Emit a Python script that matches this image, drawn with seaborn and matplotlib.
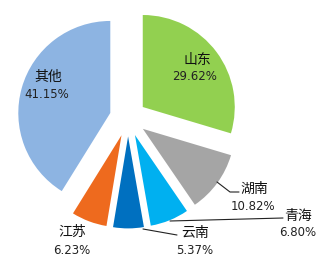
import matplotlib
matplotlib.use("Agg")
import matplotlib.pyplot as plt
import seaborn as sns

names = ["山东", "湖南", "青海", "云南", "江苏", "其他"]
shares = [29.62, 10.82, 6.80, 5.37, 6.23, 41.15]
pct_labels = ["29.62%", "10.82%", "6.80%", "5.37%", "6.23%", "41.15%"]
colors = ["#92D050", "#A5A5A5", "#00B0F0", "#0070C0", "#EE6A1E", "#8DB4E2"]

sns.set_theme(style="white")
plt.rcParams['font.family'] = ['DejaVu Sans', 'Noto Sans CJK SC']

W, H = 326, 266
CX, CY, R = 128, 118, 92.0

def P(px, py):
    return ((px - CX) / R, (CY - py) / R)

fig = plt.figure(figsize=(W / 100, H / 100), dpi=100)
ax = fig.add_axes([0, 0, 1, 1])
ax.pie(shares, colors=colors, startangle=90, counterclock=False,
       explode=[0.2] * len(shares), radius=1.0,
       wedgeprops=dict(linewidth=0))
ax.set_xlim(-CX / R, (W - CX) / R)
ax.set_ylim(-(H - CY) / R, CY / R)
ax.set_aspect('auto')
ax.axis('off')

# label layout (pixel centers of name line and percent line)
name_pos = [(197, 60), (254, 189), (298, 216), (195, 233), (72, 232), (48, 77)]
pct_pos = [(195, 77), (253, 206), (298, 233), (195, 250), (72, 250), (47, 95)]
for n, p, npos, ppos in zip(names, pct_labels, name_pos, pct_pos):
    ax.text(*P(*npos), n, ha='center', va='center', fontsize=10,
            family=['Noto Sans CJK SC'], color='#111111')
    ax.text(*P(*ppos), p, ha='center', va='center', fontsize=8.5,
            color='#222222')

# leader lines
leaders = [
    [(217, 182), (230, 192), (239, 192)],
    [(170, 221), (283, 218)],
    [(143, 229), (177, 235)],
]
for pts in leaders:
    xs, ys = zip(*[P(*q) for q in pts])
    ax.plot(xs, ys, color='#222222', linewidth=0.8)

fig.savefig("out.png", dpi=100)
